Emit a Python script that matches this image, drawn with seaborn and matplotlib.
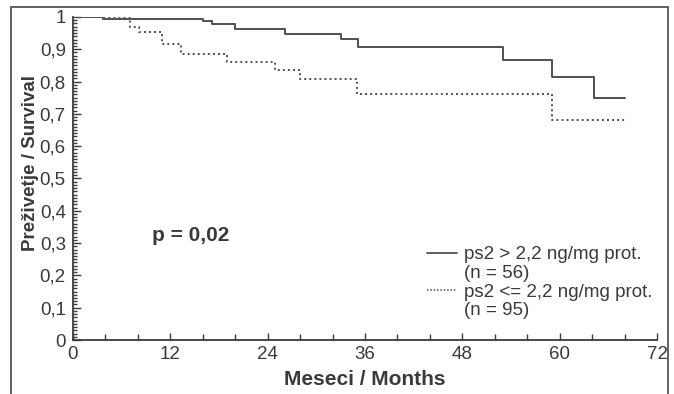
import numpy as np
import pandas as pd
import matplotlib
matplotlib.use('Agg')
import matplotlib.pyplot as plt
import matplotlib.ticker as mticker
from matplotlib.patches import Rectangle
from matplotlib.lines import Line2D
import seaborn as sns

# Kaplan-Meier steps (months, survival)
high_months = [0, 3.7, 16.0, 17.1, 20.0, 26.1, 33.0, 35.1, 53.0, 59.0, 64.2, 68.1]
high_surv = [1.0, 0.995, 0.988, 0.978, 0.963, 0.947, 0.932, 0.906, 0.866, 0.815, 0.748, 0.748]

low_months = [0, 7.0, 8.1, 11.0, 13.3, 19.0, 24.9, 28.0, 35.0, 59.0, 68.1]
low_surv = [1.0, 0.97, 0.953, 0.915, 0.885, 0.862, 0.836, 0.808, 0.760, 0.681, 0.681]

high_label = ["ps2 > 2,2 ng/mg prot.", "(n = 56)"]
low_label = ["ps2 <= 2,2 ng/mg prot.", "(n = 95)"]
x_ticks = [0, 12, 24, 36, 48, 60, 72]
y_ticks = [0, 0.1, 0.2, 0.3, 0.4, 0.5, 0.6, 0.7, 0.8, 0.9, 1.0]

sns.set_theme(style='ticks')
plt.rcParams['font.family'] = ['Liberation Sans', 'DejaVu Sans']
ink = '#3a3a3a'
line_col = '#505050'

df_high = pd.DataFrame({'month': high_months, 'surv': high_surv})
df_low = pd.DataFrame({'month': low_months, 'surv': low_surv})

fig = plt.figure(figsize=(6.74, 3.94), dpi=100)
ax = fig.add_axes([0.108, 0.137, 0.867, 0.820])

sns.lineplot(data=df_high, x='month', y='surv', ax=ax, drawstyle='steps-post',
             color=line_col, linewidth=1.4, estimator=None)
sns.lineplot(data=df_low, x='month', y='surv', ax=ax, drawstyle='steps-post',
             color=line_col, linewidth=1.4, linestyle=(0, (1, 1.6)), estimator=None)

ax.set_xlim(0, 72)
ax.set_ylim(0, 1)
ax.set_xticks(x_ticks)
ax.set_xticklabels([str(t) for t in x_ticks])
ax.xaxis.set_minor_locator(mticker.MultipleLocator(4))
ax.set_yticks(y_ticks)
ax.set_yticklabels([f"{v:g}".replace('.', ',') for v in y_ticks])
ax.yaxis.set_minor_locator(mticker.MultipleLocator(0.01))

ax.tick_params(which='both', direction='in', color=ink, width=1.0)
ax.tick_params(which='major', length=5, labelsize=13.5, labelcolor=ink, pad=4)
ax.tick_params(axis='y', which='major', length=6, pad=5)
ax.tick_params(which='minor', length=3)
ax.tick_params(axis='x', which='minor', length=4)

for side in ['top', 'right']:
    ax.spines[side].set_visible(False)
for side in ['left', 'bottom']:
    ax.spines[side].set_color(ink)
    ax.spines[side].set_linewidth(1.3)

ax.set_xlabel("Meseci / Months", fontsize=15, fontweight='bold', color=ink, labelpad=5)
ax.set_ylabel("Preživetje / Survival", fontsize=13.5, fontweight='bold', color=ink, labelpad=3)
ax.yaxis.set_label_coords(-0.057, 0.548)

ax.text(9.7, 0.325, "p = 0,02", fontsize=15, fontweight='bold', color=ink,
        ha='left', va='center')

blank = Line2D([], [], color='none')
h1 = Line2D([], [], color=line_col, linewidth=1.3)
h2 = Line2D([], [], color=line_col, linewidth=1.1, linestyle=(0, (1, 1.2)))
leg = ax.legend([h1, blank, h2, blank],
                [high_label[0], high_label[1], low_label[0], low_label[1]],
                loc='upper left', bbox_to_anchor=(0.607, 0.29), bbox_transform=ax.transAxes,
                frameon=False, fontsize=13.5, handlelength=1.6, handletextpad=0.35,
                labelspacing=0.08, borderpad=0, borderaxespad=0)
for t in leg.get_texts():
    t.set_color(ink)

# outer frame of the printed figure
fig.patches.append(Rectangle((0.0165, -0.05), 0.9745, 1.032, transform=fig.transFigure,
                             fill=False, edgecolor='#555555', linewidth=1.3))

fig.savefig('out.png', dpi=100, facecolor='white')
